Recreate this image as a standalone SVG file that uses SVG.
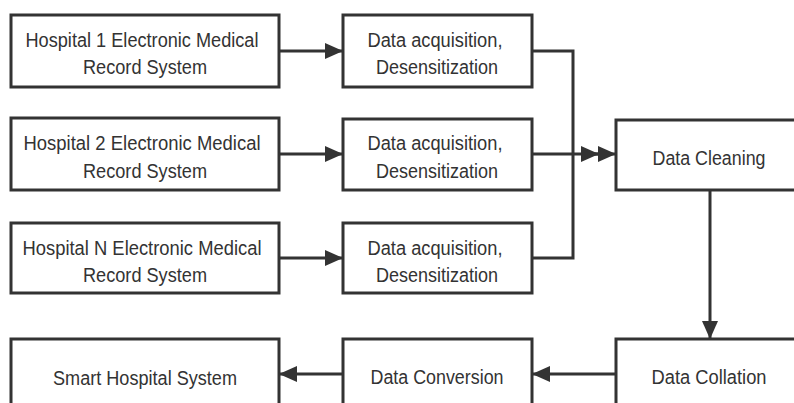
<svg xmlns="http://www.w3.org/2000/svg" width="794" height="403" viewBox="0 0 794 403">
<style>
.box{fill:#fff;stroke:#333;stroke-width:3}
.t{font-family:"Liberation Sans",Arial,sans-serif;font-size:19.5px;fill:#333;text-anchor:middle}
.c{fill:none;stroke:#333;stroke-width:3}
</style>
<defs>
<marker id="ah" viewBox="0 0 18 18" refX="18" refY="9" markerWidth="18" markerHeight="18" markerUnits="userSpaceOnUse" orient="auto">
<path d="M0,1 L18,9 L0,17 Z" fill="#333"/>
</marker>
</defs>
<rect width="794" height="403" fill="#fff"/>
<g id="h1"><rect class="box" x="11" y="15" width="268" height="72"/><text class="t" x="142" y="47" textLength="233" lengthAdjust="spacingAndGlyphs">Hospital 1 Electronic Medical</text><text class="t" x="145" y="74" textLength="124" lengthAdjust="spacingAndGlyphs">Record System</text></g>
<g id="h2"><rect class="box" x="11" y="118" width="268" height="72"/><text class="t" x="142" y="150" textLength="237" lengthAdjust="spacingAndGlyphs">Hospital 2 Electronic Medical</text><text class="t" x="145" y="178" textLength="124" lengthAdjust="spacingAndGlyphs">Record System</text></g>
<g id="h3"><rect class="box" x="11" y="223" width="268" height="70"/><text class="t" x="142" y="255" textLength="239" lengthAdjust="spacingAndGlyphs">Hospital N Electronic Medical</text><text class="t" x="145" y="282" textLength="124" lengthAdjust="spacingAndGlyphs">Record System</text></g>
<g id="d1"><rect class="box" x="343" y="15" width="189" height="72"/><text class="t" x="435" y="47" textLength="135" lengthAdjust="spacingAndGlyphs">Data acquisition,</text><text class="t" x="437" y="74" textLength="122" lengthAdjust="spacingAndGlyphs">Desensitization</text></g>
<g id="d2"><rect class="box" x="343" y="119" width="189" height="71"/><text class="t" x="435" y="150" textLength="135" lengthAdjust="spacingAndGlyphs">Data acquisition,</text><text class="t" x="437" y="178" textLength="122" lengthAdjust="spacingAndGlyphs">Desensitization</text></g>
<g id="d3"><rect class="box" x="343" y="223" width="189" height="70"/><text class="t" x="435" y="255" textLength="135" lengthAdjust="spacingAndGlyphs">Data acquisition,</text><text class="t" x="437" y="282" textLength="122" lengthAdjust="spacingAndGlyphs">Desensitization</text></g>
<g id="clean"><rect class="box" x="616" y="120" width="188" height="70"/><text class="t" x="709" y="165" textLength="113" lengthAdjust="spacingAndGlyphs">Data Cleaning</text></g>
<g id="collation"><rect class="box" x="616" y="339" width="188" height="80"/><text class="t" x="709" y="384" textLength="115" lengthAdjust="spacingAndGlyphs">Data Collation</text></g>
<g id="conversion"><rect class="box" x="343" y="339" width="189" height="80"/><text class="t" x="437" y="384" textLength="133" lengthAdjust="spacingAndGlyphs">Data Conversion</text></g>
<g id="smart"><rect class="box" x="11" y="339" width="268" height="80"/><text class="t" x="145" y="385" textLength="184" lengthAdjust="spacingAndGlyphs">Smart Hospital System</text></g>
<g id="connectors">
<line class="c" x1="279" y1="51" x2="343" y2="51" marker-end="url(#ah)"/>
<line class="c" x1="279" y1="154" x2="343" y2="154" marker-end="url(#ah)"/>
<line class="c" x1="279" y1="258" x2="343" y2="258" marker-end="url(#ah)"/>
<polyline class="c" points="532,51 573,51 573,258 532,258"/>
<line class="c" x1="532" y1="154" x2="599" y2="154" marker-end="url(#ah)"/>
<line class="c" x1="590" y1="154" x2="616" y2="154" marker-end="url(#ah)"/>
<line class="c" x1="710" y1="190" x2="710" y2="339" marker-end="url(#ah)"/>
<line class="c" x1="616" y1="374" x2="532" y2="374" marker-end="url(#ah)"/>
<line class="c" x1="343" y1="374" x2="279" y2="374" marker-end="url(#ah)"/>
</g>
</svg>
